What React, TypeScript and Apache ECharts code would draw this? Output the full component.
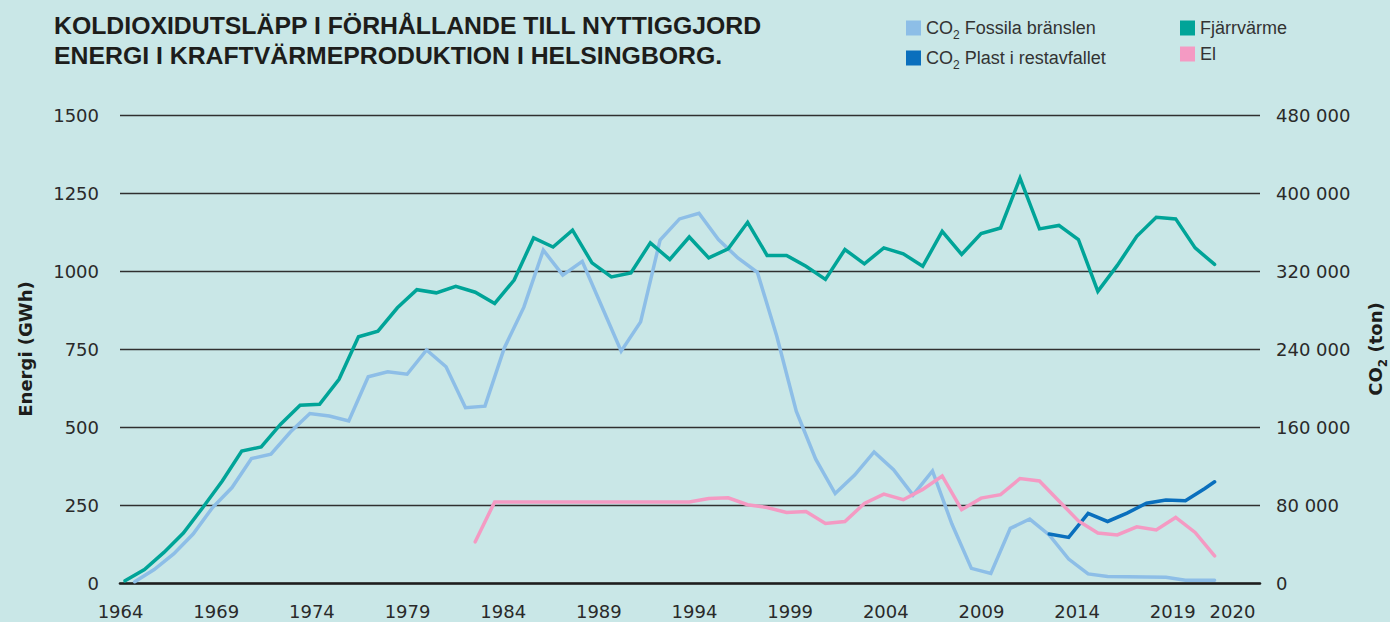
import { useEffect, useRef } from "react";
import * as echarts from "echarts";

// ---- data ----
const YEARS = [
  1964, 1965, 1966, 1967, 1968, 1969, 1970, 1971, 1972, 1973,
  1974, 1975, 1976, 1977, 1978, 1979, 1980, 1981, 1982, 1983,
  1984, 1985, 1986, 1987, 1988, 1989, 1990, 1991, 1992, 1993,
  1994, 1995, 1996, 1997, 1998, 1999, 2000, 2001, 2002, 2003,
  2004, 2005, 2006, 2007, 2008, 2009, 2010, 2011, 2012, 2013,
  2014, 2015, 2016, 2017, 2018, 2019, 2020,
];

// Fjärrvärme, GWh (1964–2020)
const FJARRVARME_GWH = [
  7, 43, 98, 160, 242, 327, 423, 436, 509, 570,
  573, 653, 789, 807, 882, 940, 930, 951, 932, 896,
  971, 1106, 1077, 1131, 1026, 981, 994, 1090, 1037, 1109,
  1042, 1071, 1156, 1050, 1050, 1015, 973, 1069, 1023, 1074,
  1055, 1015, 1127, 1053, 1120, 1138, 1298, 1135, 1146, 1101,
  935, 1018, 1111, 1172, 1167, 1074, 1021,
];

// El, GWh (1982–2020)
const EL_START_YEAR = 1982;
const EL_GWH = [
  132, 260, 260, 260, 260, 260, 260, 260, 260, 260,
  260, 260, 271, 273, 251, 242, 226, 229, 191, 197,
  255, 285, 267, 300, 343, 235, 272, 283, 335, 327,
  263, 199, 160, 154, 180, 170, 210, 162, 87,
];

// CO2 Fossila bränslen, ton (1964–2020)
const CO2_FOSSIL_TON = [
  1300, 13800, 29800, 50200, 77400, 97900, 127700, 132200, 154900, 173800,
  171200, 166100, 211500, 216600, 214100, 239000, 221800, 179800, 181400, 241300,
  282900, 341400, 315800, 329900, 283800, 237800, 267800, 351700, 373400, 379200,
  352300, 333400, 318700, 253100, 176300, 127000, 91800, 110700, 134400, 116200,
  90200, 114900, 60500, 15000, 9900, 56000, 65600, 49300, 24600, 9300,
  6700, 6400, 6100, 5800, 2900, 2900, 2900,
];

// CO2 Plast i restavfallet, ton (2011–2020)
const CO2_PLAST_START_YEAR = 2011;
const CO2_PLAST_TON = [50200, 46800, 71300, 63100, 71700, 81900, 85000, 84300, 97000, 103800];

const X_TICK_YEARS = [1964, 1969, 1974, 1979, 1984, 1989, 1994, 1999, 2004, 2009, 2014, 2019, 2020];
const LEFT_AXIS = { min: 0, max: 1500, interval: 250 };
const RIGHT_AXIS = { min: 0, max: 480000, interval: 80000 };

const NAMES = {
  fossil: "CO2 Fossila bränslen",
  plast: "CO2 Plast i restavfallet",
  fjarr: "Fjärrvärme",
  el: "El",
};

// ---- layout / style ----
const BG = "#c9e7e7";
const DATA_X_MIN = 1963.743;
const DATA_X_MAX = 2022.334;
const LABEL_X_MIN = 1963.97;
const LABEL_X_MAX = 2023.56;
const LABEL_LAST_POS = 2022.12;
const CO2_OFFSET = 0.5;
const LAST_YEAR = YEARS[YEARS.length - 1];

const COLORS = {
  fossil: "#8dbee7",
  plast: "#0a6fbd",
  fjarr: "#00a498",
  el: "#f49ac3",
};

const NUM_FONT = "DejaVu Sans";
const TXT_FONT = "Liberation Sans";

function fmtThousands(v: number): string {
  return String(Math.round(v)).replace(/\B(?=(\d{3})+(?!\d))/g, " ");
}

function subName(name: string): string {
  if (name.startsWith("CO2")) return "{a|CO}{s|2}{a|" + name.slice(3) + "}";
  return "{a|" + name + "}";
}

export default function App() {
  const ref = useRef<HTMLDivElement>(null);

  useEffect(() => {
    if (!ref.current) return;
    const chart = echarts.init(ref.current, undefined, { renderer: "svg" });

    const fjarrData = YEARS.map((y, i) => [y, FJARRVARME_GWH[i]]);
    const elData = EL_GWH.map((v, i) => [EL_START_YEAR + i, v]);
    const fossilData = YEARS.map((y, i) => [Math.min(y + CO2_OFFSET, LAST_YEAR), CO2_FOSSIL_TON[i]]);
    const plastData = CO2_PLAST_TON.map((v, i) => [
      Math.min(CO2_PLAST_START_YEAR + i + CO2_OFFSET, LAST_YEAR),
      v,
    ]);

    const lineStyle = (color: string) => ({
      color,
      width: 3.5,
      join: "miter" as const,
      cap: "round" as const,
    });

    const legendRich = {
      a: { fontFamily: TXT_FONT, fontSize: 18, color: "#333", lineHeight: 20, verticalAlign: "middle" },
      s: { fontFamily: TXT_FONT, fontSize: 12, color: "#333", lineHeight: 12, verticalAlign: "bottom", padding: [0, 0, -3, 0] },
    };

    const legendCommon = {
      orient: "vertical" as const,
      icon: "rect",
      itemWidth: 15,
      itemHeight: 15,
      itemGap: 8,
      padding: 0,
      selectedMode: false,
      formatter: (name: string) => subName(name),
      textStyle: { rich: legendRich },
    };

    const option: any = {
      animation: false,
      backgroundColor: BG,
      title: {
        text: "KOLDIOXIDUTSLÄPP I FÖRHÅLLANDE TILL NYTTIGGJORD\nENERGI I KRAFTVÄRMEPRODUKTION I HELSINGBORG.",
        left: 54,
        top: 10,
        padding: 0,
        textStyle: {
          fontFamily: TXT_FONT,
          fontWeight: "bold",
          fontSize: 24.8,
          lineHeight: 30,
          color: "#1d1d1b",
        },
      },
      legend: [
        { ...legendCommon, left: 906, top: 19, data: [NAMES.fossil, NAMES.plast] },
        { ...legendCommon, left: 1180, top: 19, data: [NAMES.fjarr, NAMES.el] },
      ],
      grid: { left: 120, top: 115, width: 1140, height: 468, outerBoundsMode: "none", containLabel: false },
      xAxis: [
        {
          type: "value",
          min: DATA_X_MIN,
          max: DATA_X_MAX,
          show: false,
        },
        {
          type: "value",
          min: LABEL_X_MIN,
          max: LABEL_X_MAX,
          position: "bottom",
          axisLine: { show: true, lineStyle: { color: "#1e1e1e", width: 2.6 } },
          axisTick: { show: false },
          splitLine: { show: false },
          axisLabel: {
            customValues: X_TICK_YEARS.map((y) => (y === LAST_YEAR ? LABEL_LAST_POS : y)),
            formatter: (v: number) => (v > LAST_YEAR - 0.5 ? String(LAST_YEAR) : String(Math.round(v))),
            fontFamily: NUM_FONT,
            fontSize: 18,
            color: "#2a2a2a",
            margin: 19,
          },
        },
      ],
      yAxis: [
        {
          type: "value",
          ...LEFT_AXIS,
          name: "Energi (GWh)",
          nameLocation: "middle",
          nameRotate: 90,
          nameGap: 86,
          nameTextStyle: { fontFamily: NUM_FONT, fontWeight: "bold", fontSize: 18, color: "#1d1d1b" },
          axisLine: { show: false },
          axisTick: { show: false },
          axisLabel: {
            fontFamily: NUM_FONT,
            fontSize: 18,
            color: "#2a2a2a",
            margin: 21,
            formatter: (v: number) => String(v),
          },
          splitLine: { show: true, lineStyle: { color: "#303030", width: 1.3 } },
        },
        {
          type: "value",
          ...RIGHT_AXIS,
          position: "right",
          name: "{b|CO}{t|2}{b| (ton)}",
          nameLocation: "middle",
          nameRotate: 90,
          nameGap: 104,
          nameTextStyle: {
            rich: {
              b: { fontFamily: NUM_FONT, fontWeight: "bold", fontSize: 18, color: "#1d1d1b", lineHeight: 22, verticalAlign: "middle" },
              t: { fontFamily: NUM_FONT, fontWeight: "bold", fontSize: 12, color: "#1d1d1b", lineHeight: 12, verticalAlign: "bottom", padding: [0, 0, -3, 0] },
            },
          },
          axisLine: { show: false },
          axisTick: { show: false },
          axisLabel: {
            fontFamily: NUM_FONT,
            fontSize: 18,
            color: "#2a2a2a",
            margin: 16,
            formatter: (v: number) => fmtThousands(v),
          },
          splitLine: { show: false },
        },
      ],
      series: [
        {
          name: NAMES.fossil,
          type: "line",
          xAxisIndex: 0,
          yAxisIndex: 1,
          data: fossilData,
          symbol: "none",
          color: COLORS.fossil,
          lineStyle: lineStyle(COLORS.fossil),
          z: 2,
        },
        {
          name: NAMES.plast,
          type: "line",
          xAxisIndex: 0,
          yAxisIndex: 1,
          data: plastData,
          symbol: "none",
          color: COLORS.plast,
          lineStyle: lineStyle(COLORS.plast),
          z: 3,
        },
        {
          name: NAMES.fjarr,
          type: "line",
          xAxisIndex: 0,
          yAxisIndex: 0,
          data: fjarrData,
          symbol: "none",
          color: COLORS.fjarr,
          lineStyle: lineStyle(COLORS.fjarr),
          z: 4,
        },
        {
          name: NAMES.el,
          type: "line",
          xAxisIndex: 0,
          yAxisIndex: 0,
          data: elData,
          symbol: "none",
          color: COLORS.el,
          lineStyle: lineStyle(COLORS.el),
          z: 5,
        },
      ],
    };

    chart.setOption(option);
    return () => chart.dispose();
  }, []);

  return (
    <div
      ref={ref}
      style={{ position: "fixed", left: 0, top: 0, width: 1390, height: 622, background: BG }}
    />
  );
}
